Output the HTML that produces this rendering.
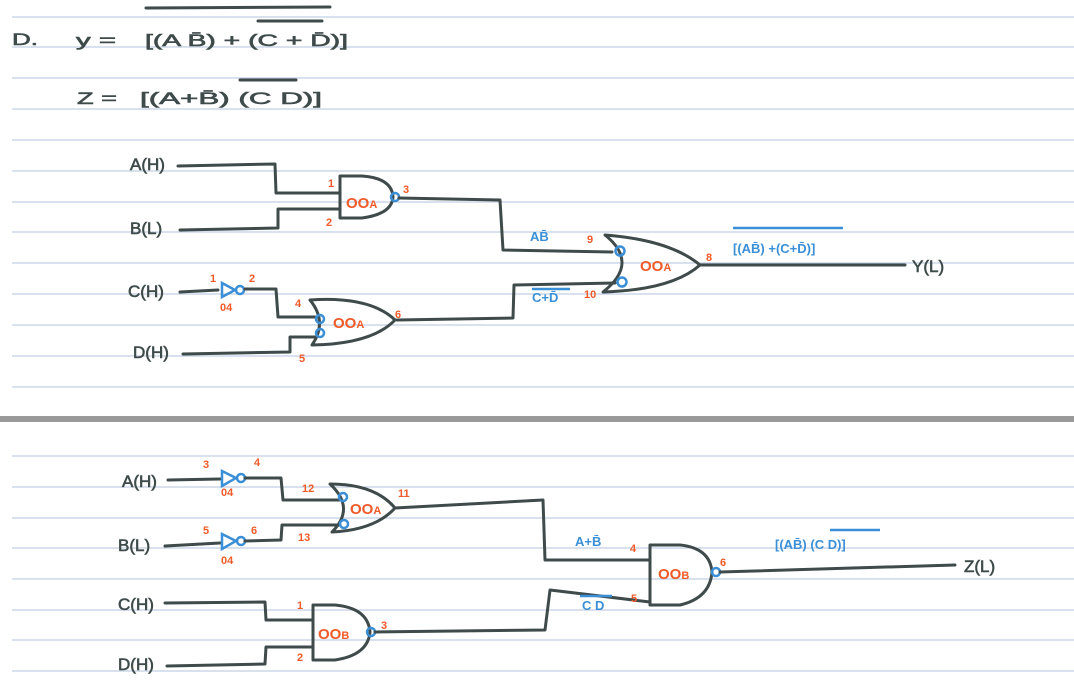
<!DOCTYPE html>
<html><head><meta charset="utf-8"><style>
html,body{margin:0;padding:0;background:#fff;}
svg{display:block;}
text{font-family:"Liberation Sans",sans-serif;}
.w{fill:none;stroke:#3f4b4b;stroke-width:3;stroke-linecap:round;stroke-linejoin:round;}
.b{fill:none;stroke:#3a8fd6;stroke-width:2.5;}
.k{fill:#3f4b4b;font-size:17px;stroke:#3f4b4b;stroke-width:0.6;}
.o{fill:#f05a28;font-size:11px;font-weight:bold;}
.og{fill:#f05a28;font-size:15px;font-weight:bold;}
.bl{fill:#3a8fd6;font-size:13px;font-weight:bold;}
.r{stroke:#b3c3dc;stroke-width:1;}
</style></head><body>
<svg width="1074" height="694" viewBox="0 0 1074 694">
<g>
<line class="r" x1="12" x2="1074" y1="17" y2="17"/><line class="r" x1="12" x2="1074" y1="47" y2="47"/>
<line class="r" x1="12" x2="1074" y1="78" y2="78"/><line class="r" x1="12" x2="1074" y1="109" y2="109"/>
<line class="r" x1="12" x2="1074" y1="140" y2="140"/><line class="r" x1="12" x2="1074" y1="171" y2="171"/>
<line class="r" x1="12" x2="1074" y1="202" y2="202"/><line class="r" x1="12" x2="1074" y1="232" y2="232"/>
<line class="r" x1="12" x2="1074" y1="263" y2="263"/><line class="r" x1="12" x2="1074" y1="294" y2="294"/>
<line class="r" x1="12" x2="1074" y1="325" y2="325"/><line class="r" x1="12" x2="1074" y1="356" y2="356"/>
<line class="r" x1="12" x2="1074" y1="387" y2="387"/>
<line class="r" x1="12" x2="1074" y1="456" y2="456"/><line class="r" x1="12" x2="1074" y1="487" y2="487"/>
<line class="r" x1="12" x2="1074" y1="518" y2="518"/><line class="r" x1="12" x2="1074" y1="548" y2="548"/>
<line class="r" x1="12" x2="1074" y1="579" y2="579"/><line class="r" x1="12" x2="1074" y1="610" y2="610"/>
<line class="r" x1="12" x2="1074" y1="640" y2="640"/><line class="r" x1="12" x2="1074" y1="671" y2="671"/>
</g>
<rect x="0" y="416" width="1074" height="6" fill="#9a9a9a"/>

<g>
<text class="k" x="12" y="45" font-size="26" textLength="26" lengthAdjust="spacingAndGlyphs">D.</text>
<text class="k" x="76" y="46" font-size="24" textLength="40" lengthAdjust="spacingAndGlyphs">y =</text>
<text class="k" x="145" y="46" font-size="24" textLength="203" lengthAdjust="spacingAndGlyphs">[(A B̄) + (C + D̄)]</text>
<line class="w" x1="146" y1="8" x2="330" y2="7" stroke-width="2.5"/>
<line class="w" x1="258" y1="21" x2="322" y2="21" stroke-width="2.5"/>
<text class="k" x="77" y="104" font-size="24" textLength="40" lengthAdjust="spacingAndGlyphs">Z =</text>
<text class="k" x="140" y="104" font-size="24" textLength="182" lengthAdjust="spacingAndGlyphs">[(A+B̄) (C D)]</text>
<line class="w" x1="240" y1="80" x2="296" y2="80" stroke-width="2.5"/>
</g>

<g>
<text class="k" x="130" y="170" font-size="14">A(H)</text>
<text class="k" x="130" y="234" font-size="14">B(L)</text>
<text class="k" x="128" y="297" font-size="14">C(H)</text>
<text class="k" x="133" y="358" font-size="14">D(H)</text>
<path class="w" d="M178 166 L275 164 L276 193 L340 193"/>
<path class="w" d="M180 230 L278 228 L278 209 L340 209"/>
<path class="w" d="M340 176 L340 218 L362 218 Q392 214 393 197 Q392 178 362 176 Z"/>
<circle class="b" cx="395" cy="197" r="4"/>
<text class="og" x="346" y="208">OO<tspan font-size="11">A</tspan></text>
<text class="o" x="328" y="187">1</text><text class="o" x="326" y="226">2</text><text class="o" x="403" y="193">3</text>
<path class="w" d="M399 198 L500 200 L503 250 L612 252"/>
<path class="w" d="M180 292 L218 290"/>
<path class="b" d="M222 283 L222 297 L235 290 Z"/><circle class="b" cx="240" cy="290" r="4"/>
<text class="o" x="210" y="282">1</text><text class="o" x="249" y="282">2</text><text class="o" x="220" y="311">04</text>
<path class="w" d="M245 289 L276 289 L278 317 L315 317"/>
<path class="w" d="M183 354 L290 352 L290 337 L315 337"/>
<path class="w" d="M310 300 Q370 296 395 320 Q372 344 312 345 Q328 322 310 300 Z"/>
<circle class="b" cx="320" cy="319" r="4"/><circle class="b" cx="320" cy="333" r="4"/>
<text class="og" x="333" y="328">OO<tspan font-size="11">A</tspan></text>
<text class="o" x="295" y="307">4</text><text class="o" x="299" y="362">5</text><text class="o" x="395" y="318">6</text>
<path class="w" d="M397 320 L513 318 L514 285 L615 283"/>
<path class="w" d="M605 235 Q670 240 700 265 Q672 290 603 292 Q640 263 605 235 Z"/>
<circle class="b" cx="620" cy="251" r="4.5"/><circle class="b" cx="622" cy="282" r="4.5"/>
<text class="og" x="640" y="271">OO<tspan font-size="11">A</tspan></text>
<text class="o" x="587" y="243">9</text><text class="o" x="584" y="298">10</text><text class="o" x="706" y="261">8</text>
<text class="bl" x="530" y="241">AB̄</text>
<text class="bl" x="532" y="302">C+D̄</text><line class="b" x1="532" y1="289" x2="570" y2="289" stroke-width="1.5"/>
<path class="w" d="M700 265 L905 265"/>
<text class="bl" x="733" y="253">[(AB̄) +(C+D̄)]</text>
<line class="b" x1="733" y1="228" x2="843" y2="228" stroke-width="2"/>
<text class="k" x="912" y="272" font-size="18">Y(L)</text>
</g>

<g>
<text class="k" x="122" y="487" font-size="16">A(H)</text>
<text class="k" x="118" y="551" font-size="16">B(L)</text>
<text class="k" x="118" y="610" font-size="16">C(H)</text>
<text class="k" x="118" y="670" font-size="16">D(H)</text>
<path class="w" d="M168 480 L220 479"/>
<path class="b" d="M222 471 L222 486 L236 478 Z"/><circle class="b" cx="241" cy="478" r="4"/>
<text class="o" x="203" y="468">3</text><text class="o" x="254" y="466">4</text><text class="o" x="221" y="496">04</text>
<path class="w" d="M245 478 L281 478 L283 500 L340 500"/>
<path class="w" d="M165 546 L220 543"/>
<path class="b" d="M222 534 L222 549 L236 541 Z"/><circle class="b" cx="241" cy="541" r="4"/>
<text class="o" x="203" y="534">5</text><text class="o" x="251" y="534">6</text><text class="o" x="221" y="564">04</text>
<path class="w" d="M245 541 L281 540 L282 525 L340 525"/>
<path class="w" d="M330 484 Q375 484 395 508 Q375 530 332 532 Q356 508 330 484 Z"/>
<circle class="b" cx="343" cy="497" r="4"/><circle class="b" cx="344" cy="524" r="4"/>
<text class="og" x="350" y="514">OO<tspan font-size="11">A</tspan></text>
<text class="o" x="302" y="492">12</text><text class="o" x="298" y="541">13</text><text class="o" x="398" y="497">11</text>
<path class="w" d="M395 508 L543 500 L545 560 L650 560"/>
<path class="w" d="M165 603 L265 602 L266 620 L313 620"/>
<path class="w" d="M167 666 L265 664 L266 647 L313 647"/>
<path class="w" d="M313 605 L313 660 L335 660 Q368 655 370 632 Q368 608 335 605 Z"/>
<circle class="b" cx="371" cy="632" r="4"/>
<text class="og" x="318" y="639">OO<tspan font-size="11">B</tspan></text>
<text class="o" x="297" y="609">1</text><text class="o" x="297" y="661">2</text><text class="o" x="381" y="629">3</text>
<path class="w" d="M375 632 L545 630 L550 590 L650 602"/>
<path class="w" d="M650 545 L650 605 L680 605 Q710 598 712 572 Q710 548 680 545 Z"/>
<circle class="b" cx="716" cy="572" r="4"/>
<text class="og" x="658" y="579">OO<tspan font-size="11">B</tspan></text>
<text class="o" x="630" y="552">4</text><text class="o" x="631" y="602">5</text><text class="o" x="720" y="566">6</text>
<text class="bl" x="575" y="546">A+B̄</text>
<text class="bl" x="582" y="610">C D</text><line class="b" x1="580" y1="596" x2="612" y2="596" stroke-width="1.5"/>
<path class="w" d="M720 572 L955 565"/>
<text class="bl" x="775" y="549">[(AB̄) (C D)]</text>
<line class="b" x1="830" y1="530" x2="880" y2="530" stroke-width="1.5"/>
<text class="k" x="964" y="572" font-size="17">Z(L)</text>
</g>
</svg>
</body></html>
